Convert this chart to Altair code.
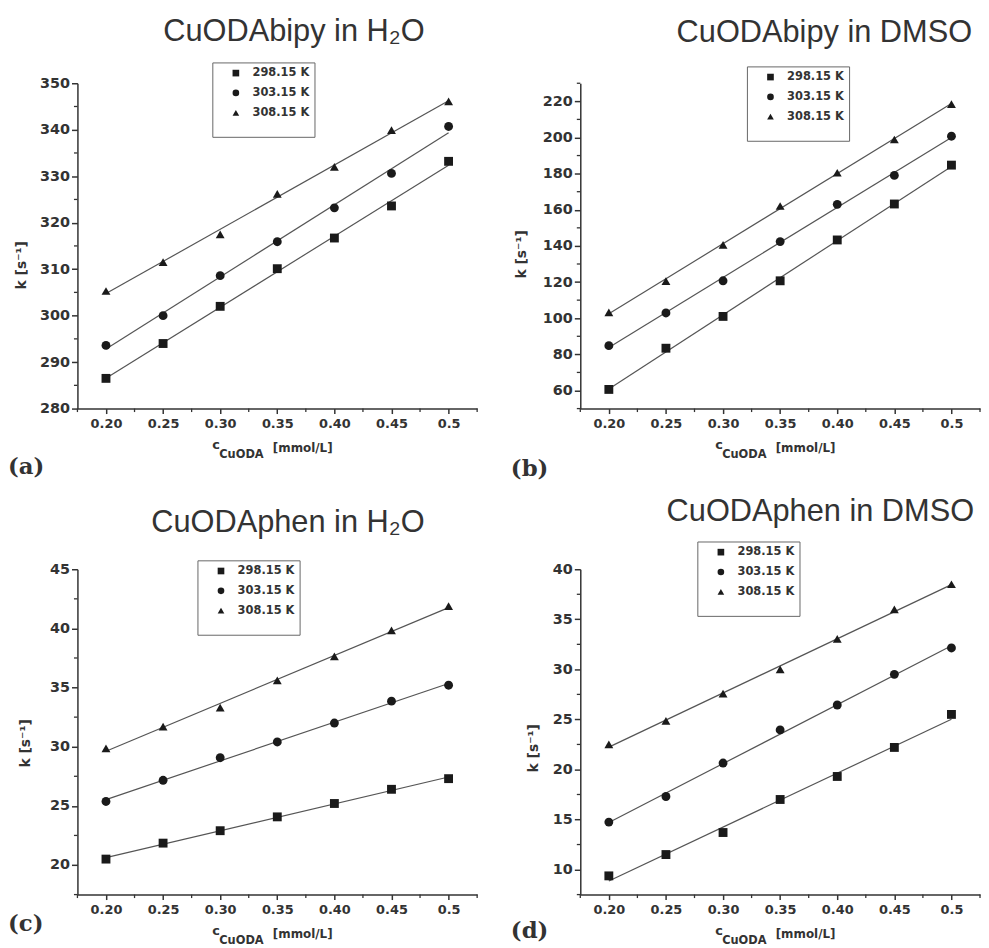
import altair as alt
import pandas as pd

# ---------------- data ----------------
X_CONC = [0.20, 0.25, 0.30, 0.35, 0.40, 0.45, 0.50]
TEMPS = ["298.15 K", "303.15 K", "308.15 K"]

A_298 = [286.5, 294.0, 302.0, 310.1, 316.7, 323.6, 333.2]
A_303 = [293.6, 300.0, 308.6, 315.9, 323.2, 330.6, 340.7]
A_308 = [305.3, 311.5, 317.5, 326.2, 332.0, 339.9, 346.1]

B_298 = [60.6, 83.4, 101.0, 120.7, 143.3, 163.2, 184.7]
B_303 = [84.8, 102.9, 120.7, 142.4, 163.0, 179.0, 200.7]
B_308 = [103.2, 120.5, 140.6, 162.1, 180.5, 198.9, 218.5]

C_298 = [20.5, 21.85, 22.9, 24.07, 25.2, 26.4, 27.3]
C_303 = [25.37, 27.16, 29.07, 30.4, 32.0, 33.85, 35.2]
C_308 = [29.86, 31.7, 33.3, 35.6, 37.64, 39.83, 41.88]

D_298 = [9.37, 11.5, 13.7, 17.0, 19.3, 22.2, 25.5]
D_303 = [14.74, 17.3, 20.64, 23.95, 26.44, 29.5, 32.14]
D_308 = [22.5, 24.85, 27.57, 29.99, 33.04, 36.0, 38.5]

TITLES = ["CuODAbipy in H\u2082O", "CuODAbipy in DMSO",
          "CuODAphen in H\u2082O", "CuODAphen in DMSO"]
PANEL_LABELS = ["(a)", "(b)", "(c)", "(d)"]
Y_TITLE = "k [s\u207b\u00b9]"
X_TITLE_MAIN = "c"
X_TITLE_SUB = "CuODA"
X_TITLE_UNIT = "[mmol/L]"

X_DOMAIN = [0.175, 0.525]
X_MAJOR = [0.20, 0.25, 0.30, 0.35, 0.40, 0.45, 0.50]
X_MINOR = [0.175, 0.225, 0.275, 0.325, 0.375, 0.425, 0.475, 0.525]

A_Y_DOMAIN = [280, 350]
A_Y_MAJOR = [280, 290, 300, 310, 320, 330, 340, 350]
A_Y_MINOR = [285, 295, 305, 315, 325, 335, 345]
B_Y_DOMAIN = [50, 230]
B_Y_MAJOR = [60, 80, 100, 120, 140, 160, 180, 200, 220]
B_Y_MINOR = [50, 70, 90, 110, 130, 150, 170, 190, 210, 230]
C_Y_DOMAIN = [17.5, 45]
C_Y_MAJOR = [20, 25, 30, 35, 40, 45]
C_Y_MINOR = [17.5, 22.5, 27.5, 32.5, 37.5, 42.5]
D_Y_DOMAIN = [7.5, 40]
D_Y_MAJOR = [10, 15, 20, 25, 30, 35, 40]
D_Y_MINOR = [7.5, 12.5, 17.5, 22.5, 27.5, 32.5, 37.5]

# ---------------- layout ----------------
W, H = 403, 328
INK = "#333333"
LABEL_FONT = "DejaVu Sans"


def text_layer(text, x, y, font, size, weight="bold", align="left"):
    return alt.Chart(pd.DataFrame({"t": [0]})).mark_text(
        text=text, align=align, baseline="alphabetic", font=font,
        fontSize=size, fontWeight=weight, color=INK
    ).encode(x=alt.value(x), y=alt.value(y))


def panel(series, y_domain, y_major, y_minor, title, label, lay):
    df = pd.DataFrame({
        "x": X_CONC * 3,
        "k": series[0] + series[1] + series[2],
        "T": [t for t in TEMPS for _ in X_CONC],
    })
    xs = alt.Scale(domain=X_DOMAIN, nice=False, zero=False)
    ys = alt.Scale(domain=y_domain, nice=False, zero=False)
    x_axis = alt.Axis(
        values=X_MAJOR, title=None, tickSize=5, labelPadding=4, labelFontSize=13,
        labelExpr="datum.value == 0.5 ? '0.5' : format(datum.value, '.2f')",
    )
    y_axis = alt.Axis(
        values=y_major, title=Y_TITLE, titleX=lay["ytx"], titleY=H / 2 + lay["yty"],
        titleAngle=270, titleAlign="center", titleBaseline="middle",
        titleFont=LABEL_FONT, titleFontSize=14, titleFontWeight="bold", titleColor=INK,
        tickSize=6, labelPadding=2, labelFontSize=14.5, format="d",
    )
    X = alt.X("x:Q", scale=xs, axis=x_axis)
    Y = alt.Y("k:Q", scale=ys, axis=y_axis)
    base = alt.Chart(df)
    lines = base.transform_regression("x", "k", groupby=["T"]).mark_line(
        color="#555555", strokeWidth=1.2
    ).encode(x=X, y=Y, detail="T:N")
    points = base.mark_point(filled=True, size=80, opacity=1, color="#1a1a1a").encode(
        x=X, y=Y,
        shape=alt.Shape(
            "T:N",
            scale=alt.Scale(domain=TEMPS, range=["square", "circle", "triangle-up"]),
            legend=alt.Legend(
                title=" ", titleOrient="bottom", titleFontSize=9, titlePadding=4,
                orient="none", legendX=lay["lx"], legendY=lay["ly"],
                strokeColor="#666666", fillColor="white", padding=5,
                labelFont=LABEL_FONT, labelFontWeight="bold", labelFontSize=11.5,
                labelColor=INK, symbolSize=45, symbolFillColor="#1a1a1a",
                symbolStrokeColor="#1a1a1a", symbolOffset=13, labelOffset=11,
                rowPadding=6,
            ),
        ),
    )
    ytick = alt.Chart(pd.DataFrame({"k": y_minor})).mark_rule(
        color=INK, strokeWidth=1.3
    ).encode(y=Y, x=alt.value(0), x2=alt.value(-3.5))
    xtick = alt.Chart(pd.DataFrame({"x": X_MINOR})).mark_rule(
        color=INK, strokeWidth=1.3
    ).encode(x=X, y=alt.value(H), y2=alt.value(H + 3.5))
    layers = [
        lines, points, ytick, xtick,
        text_layer(title, lay["tx"], lay["ty"], "Liberation Sans", 31, "normal", "right"),
        text_layer(X_TITLE_MAIN, 136, H + 41, LABEL_FONT, 13),
        text_layer(X_TITLE_SUB, 143, H + 50, LABEL_FONT, 11.5),
        text_layer(X_TITLE_UNIT, 197, H + 44, LABEL_FONT, 12),
        text_layer(label, -70, H + lay["lab"], "DejaVu Serif", 23),
    ]
    return alt.layer(*layers).properties(width=W, height=H)


LAY_A = dict(ytx=-56, yty=19, lx=136, ly=-21, tx=350, ty=-43, lab=66)
LAY_B = dict(ytx=-59, yty=8, lx=168, ly=-17, tx=395, ty=-42, lab=68)
LAY_C = dict(ytx=-52, yty=11, lx=121, ly=-9, tx=350, ty=-38, lab=37)
LAY_D = dict(ytx=-47, yty=16, lx=118, ly=-28, tx=397, ty=-49, lab=44)

pa = panel([A_298, A_303, A_308], A_Y_DOMAIN, A_Y_MAJOR, A_Y_MINOR, TITLES[0], PANEL_LABELS[0], LAY_A)
pb = panel([B_298, B_303, B_308], B_Y_DOMAIN, B_Y_MAJOR, B_Y_MINOR, TITLES[1], PANEL_LABELS[1], LAY_B)
pc = panel([C_298, C_303, C_308], C_Y_DOMAIN, C_Y_MAJOR, C_Y_MINOR, TITLES[2], PANEL_LABELS[2], LAY_C)
pd_ = panel([D_298, D_303, D_308], D_Y_DOMAIN, D_Y_MAJOR, D_Y_MINOR, TITLES[3], PANEL_LABELS[3], LAY_D)

chart = alt.concat(
    pa, pb, pc, pd_, columns=2, bounds="flush",
    spacing=alt.RowColnumber(row=162, column=104),
).resolve_scale(shape="independent").resolve_legend(shape="independent").properties(
    padding={"left": 0, "top": 4, "right": 0, "bottom": 0},
    background="white",
).configure_view(stroke=None).configure_axis(
    grid=False, domainColor=INK, domainWidth=1.5, tickColor=INK, tickWidth=1.5,
    labelFont=LABEL_FONT, labelFontWeight="bold", labelColor=INK,
)

chart.save("out.html", embed_options={"renderer": "svg", "actions": False})
